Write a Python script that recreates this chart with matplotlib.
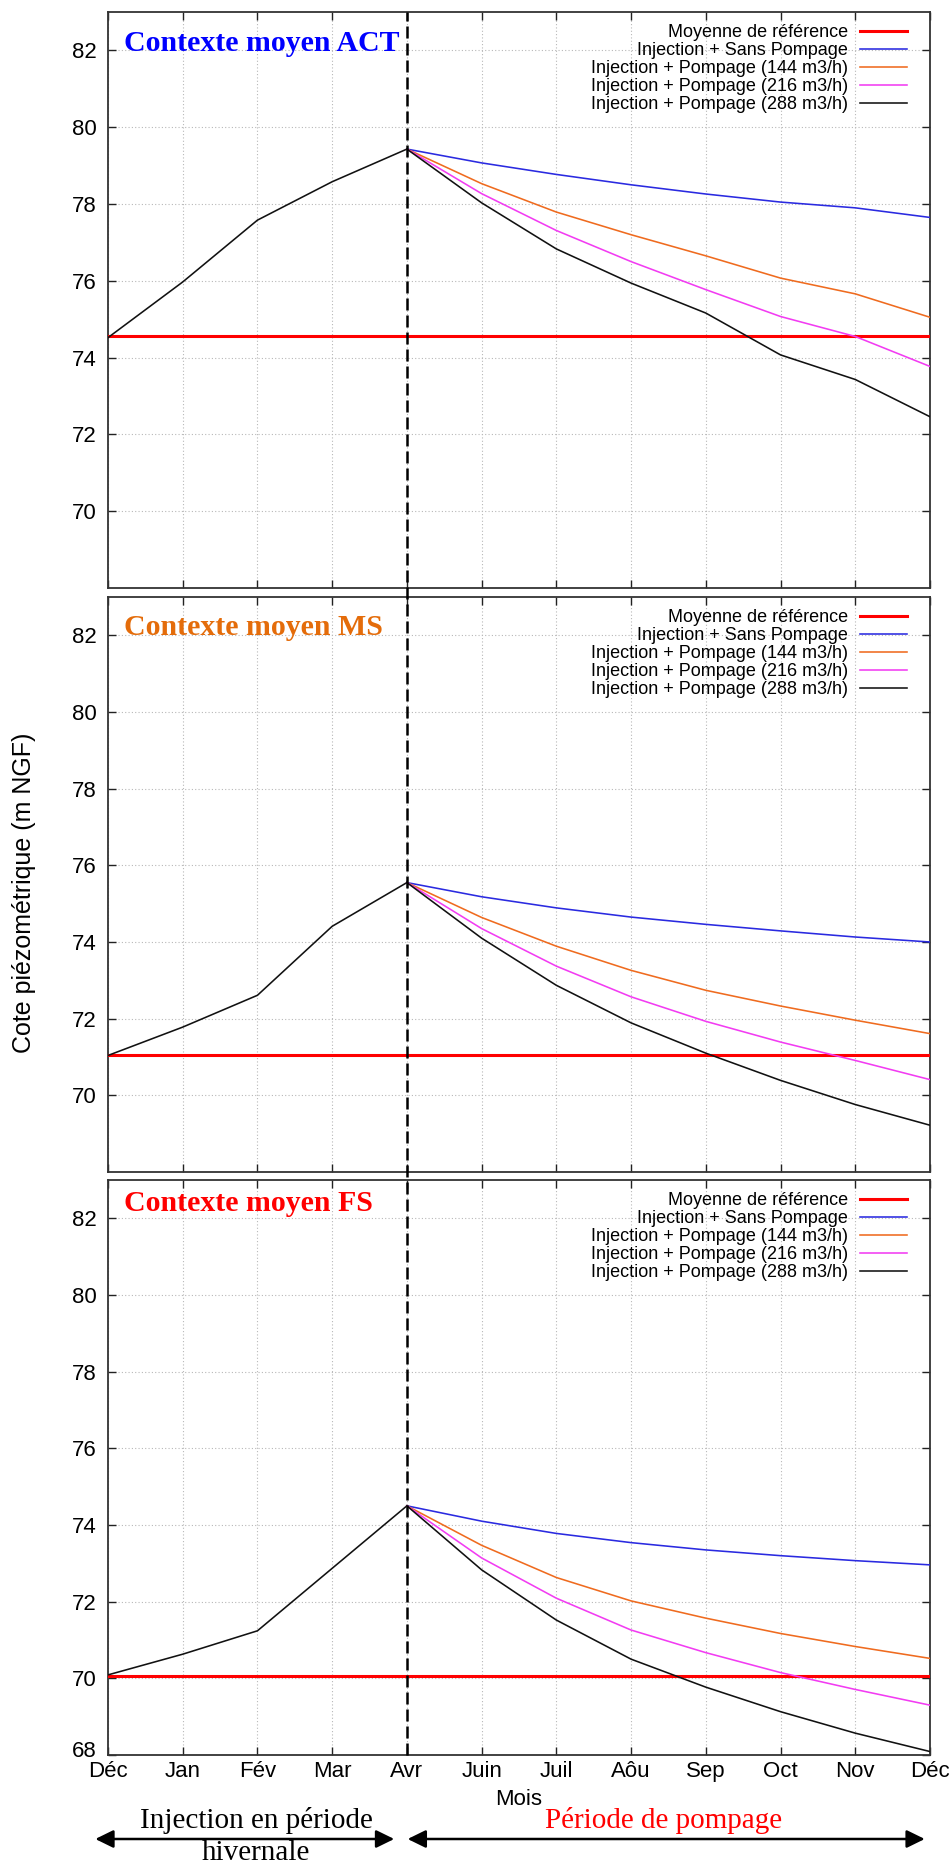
import matplotlib
matplotlib.use("Agg")
import matplotlib.pyplot as plt
from matplotlib import transforms
from matplotlib.lines import Line2D

plt.rcParams["font.family"] = ["Liberation Sans", "DejaVu Sans"]

# ---- data -------------------------------------------------------------
mois = ["Déc", "Jan", "Fév", "Mar", "Avr", "Juin", "Juil", "Aôu", "Sep", "Oct", "Nov", "Déc"]
x_injection = list(range(0, 5))     # Déc -> Avr
x_pompage = list(range(4, 12))      # Avr -> Déc

serie_labels = [
    "Moyenne de référence",
    "Injection + Sans Pompage",
    "Injection + Pompage (144 m3/h)",
    "Injection + Pompage (216 m3/h)",
    "Injection + Pompage (288 m3/h)",
]

# Contexte moyen ACT
act_reference = 74.55
act_injection = [74.52, 75.97, 77.58, 78.58, 79.43]
act_sans = [79.43, 79.07, 78.77, 78.50, 78.26, 78.05, 77.90, 77.65]
act_q144 = [79.43, 78.53, 77.79, 77.20, 76.65, 76.07, 75.66, 75.05]
act_q216 = [79.43, 78.27, 77.31, 76.50, 75.77, 75.07, 74.55, 73.77]
act_q288 = [79.43, 78.03, 76.83, 75.94, 75.16, 74.07, 73.43, 72.46]

# Contexte moyen MS
ms_reference = 71.04
ms_injection = [71.04, 71.78, 72.61, 74.41, 75.55]
ms_sans = [75.55, 75.18, 74.89, 74.65, 74.46, 74.29, 74.13, 74.00]
ms_q144 = [75.55, 74.64, 73.89, 73.26, 72.74, 72.33, 71.96, 71.61]
ms_q216 = [75.55, 74.35, 73.37, 72.57, 71.93, 71.39, 70.91, 70.41]
ms_q288 = [75.55, 74.10, 72.87, 71.89, 71.10, 70.39, 69.76, 69.22]

# Contexte moyen FS
fs_reference = 70.07
fs_injection = [70.09, 70.63, 71.24, 72.87, 74.50]
fs_sans = [74.50, 74.10, 73.78, 73.54, 73.35, 73.20, 73.07, 72.96]
fs_q144 = [74.50, 73.47, 72.63, 72.02, 71.57, 71.17, 70.83, 70.52]
fs_q216 = [74.50, 73.14, 72.09, 71.26, 70.67, 70.15, 69.71, 69.30]
fs_q288 = [74.50, 72.83, 71.52, 70.50, 69.77, 69.13, 68.57, 68.09]

titres = ["Contexte moyen ACT", "Contexte moyen MS", "Contexte moyen FS"]
couleurs_titres = ["#0000ff", "#e46c0a", "#ff0000"]

contextes = [
    (act_reference, act_injection, act_sans, act_q144, act_q216, act_q288),
    (ms_reference, ms_injection, ms_sans, ms_q144, ms_q216, ms_q288),
    (fs_reference, fs_injection, fs_sans, fs_q144, fs_q216, fs_q288),
]

# ---- style ------------------------------------------------------------
c_ref = "#ff0000"
c_sans = "#2a2ae0"
c_144 = "#ef6b1f"
c_216 = "#f23cf2"
c_288 = "#111111"
lw_serie = 1.15

W, H = 952, 1863
fig = plt.figure(figsize=(W / 100, H / 100), dpi=100)

# panel frames in pixels: left, top, right, bottom
cadres = [(108, 12, 930, 588), (108, 597, 930, 1172), (108, 1180, 930, 1755)]
titre_baseline = [38.7, 38.0, 31.0]

axes = []
for i, (cadre, titre, ctitre, ctx) in enumerate(zip(cadres, titres, couleurs_titres, contextes)):
    l, t, r, b = cadre
    ax = fig.add_axes([l / W, 1 - b / H, (r - l) / W, (b - t) / H])
    axes.append(ax)
    ref, inj, sans, q144, q216, q288 = ctx

    h_ref = ax.axhline(ref, color=c_ref, lw=2.2, zorder=3)
    ax.plot(x_injection, inj, color=c_288, lw=lw_serie, zorder=4)
    h_sans, = ax.plot(x_pompage, sans, color=c_sans, lw=lw_serie, zorder=4)
    h_144, = ax.plot(x_pompage, q144, color=c_144, lw=lw_serie, zorder=4)
    h_216, = ax.plot(x_pompage, q216, color=c_216, lw=lw_serie, zorder=4)
    h_288, = ax.plot(x_pompage, q288, color=c_288, lw=lw_serie, zorder=4)

    ax.set_xlim(0, len(mois) - 1)
    ax.set_ylim(68, 83)
    ax.set_xticks(range(len(mois)))
    if i == 2:
        ax.set_yticks(range(68, 83, 2))
        ax.set_xticklabels(mois)
    else:
        ax.set_yticks(range(70, 83, 2))
        ax.set_xticklabels([])

    ax.grid(True, color="#b8b8b8", linestyle=(0, (1, 2)), linewidth=0.8, zorder=0)
    ax.set_axisbelow(True)
    ax.tick_params(axis="both", direction="in", top=True, right=True,
                   length=5.8, width=1.0, color="#222222", labelsize=16)
    ax.tick_params(axis="y", pad=8)
    ax.tick_params(axis="x", pad=4)
    for sp in ax.spines.values():
        sp.set_color("#333333")
        sp.set_linewidth(1.3)

    ax.text((124 - l) / (r - l), 1 - titre_baseline[i] / (b - t), titre,
            transform=ax.transAxes, ha="left", va="baseline",
            family="Liberation Serif", fontweight="bold", fontsize=21.5,
            color=ctitre, zorder=6)

    ax.legend([h_ref, h_sans, h_144, h_216, h_288], serie_labels,
              loc="upper right", bbox_to_anchor=(1 - 23 / (r - l), 1 - 12 / (b - t)),
              frameon=False, fontsize=13, markerfirst=False, handlelength=2.6,
              handletextpad=0.65, labelspacing=0.06, borderpad=0, borderaxespad=0)

ax3 = axes[2]
ax3.set_xlabel("Mois", fontsize=16, labelpad=5.5)

# lift the lowest y label a little so it sits clear of the month labels
fig.canvas.draw()
lab68 = ax3.get_yticklabels()[0]
lab68.set_transform(lab68.get_transform()
                    + transforms.ScaledTranslation(0, 4 / 72, fig.dpi_scale_trans))

# vertical dashed separator at April across the three panels
i_avr = mois.index("Avr")
trans = transforms.blended_transform_factory(axes[0].transData, fig.transFigure)
y_haut = axes[0].get_position().y1
y_bas = axes[2].get_position().y0
fig.add_artist(Line2D([i_avr, i_avr], [y_bas, y_haut], transform=trans,
                      color="black", lw=1.8, linestyle=(0, (4.8, 2)), zorder=5))

fig.text(24 / W, 1 - 893 / H, "Cote piézométrique (m NGF)", rotation=90,
         ha="center", va="center", fontsize=18)

# period annotations below the bottom panel
y_fleche = 1 - 1839 / H
for x0, x1 in [(-0.17, 3.83), (4.01, 10.93)]:
    ax3.annotate("", xy=(x1, y_fleche), xytext=(x0, y_fleche),
                 xycoords=("data", "figure fraction"),
                 textcoords=("data", "figure fraction"),
                 arrowprops=dict(arrowstyle="<|-|>,head_length=0.55,head_width=0.27",
                                 color="black", lw=1.8, shrinkA=0, shrinkB=0,
                                 mutation_scale=20),
                 annotation_clip=False)

fig.text(256 / W, 1 - 1828 / H, "Injection en période", ha="center", va="baseline",
         family="Liberation Serif", fontsize=21)
fig.text(256 / W, 1 - 1860 / H, "hivernale", ha="center", va="baseline",
         family="Liberation Serif", fontsize=21)
fig.text(664 / W, 1 - 1828 / H, "Période de pompage", ha="center", va="baseline",
         family="Liberation Serif", fontsize=21, color="#ff0000")

fig.savefig("out.png", dpi=100)
